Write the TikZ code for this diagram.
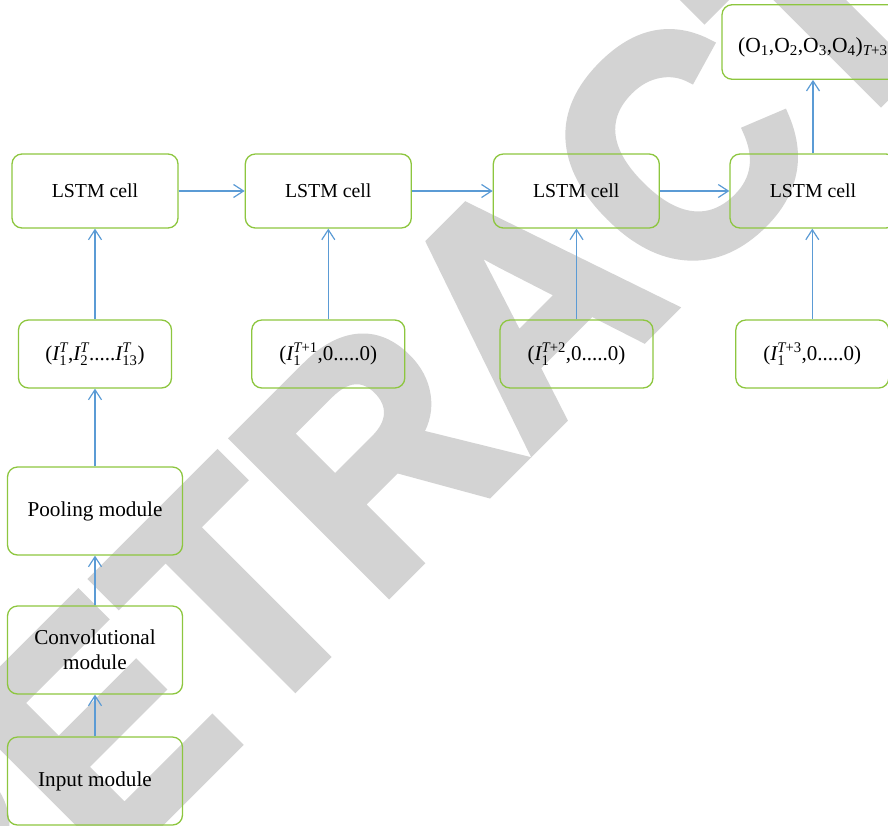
\documentclass[tikz,border=0pt]{standalone}
\usepackage{amsmath}
\usepackage{fontspec}
\setmainfont{Liberation Serif}
\newfontfamily\wmfont{Liberation Sans Bold}[FakeBold=2.8]
\usetikzlibrary{arrows.meta}
\definecolor{boxgreen}{RGB}{141,198,63}
\definecolor{arrblue}{RGB}{91,155,213}
\definecolor{wmgray}{RGB}{211,211,211}
\newcommand\tI{\textit{I}}
\newcommand\sT{\text{\itshape T}}
\begin{document}
\begin{tikzpicture}[x=1pt,y=-1pt,
  box/.style={draw=boxgreen, line width=1.3pt, rounded corners=10pt, inner sep=0pt, align=center, font=\fontsize{19.8}{24}\selectfont},
  lstm/.style={box, minimum width=166pt, minimum height=74pt},
  inbox/.style={box, minimum width=153pt, minimum height=68pt, font=\fontsize{21}{24}\selectfont},
  mod/.style={box, minimum width=175pt, minimum height=88pt, font=\fontsize{21.2}{25}\selectfont},
  wm/.style={font=\wmfont\fontsize{318}{318}\selectfont, text=wmgray, rotate=45, xscale=0.938, anchor=base, inner sep=0pt},
  arr/.style={draw=arrblue, line width=1.2pt, -{Straight Barb[length=10pt,width=13pt]}}]
\useasboundingbox (0,0) rectangle (888,825);
\clip (0,0) rectangle (888,825);
% watermark
\node[wm] (wmc) at (603.2,379) {RETRACTED};
% LSTM row
\node[lstm] (l1) at (95,191) {LSTM cell};
\node[lstm] (l2) at (328.3,191) {LSTM cell};
\node[lstm] (l3) at (576.3,191) {LSTM cell};
\node[lstm] (l4) at (813,191) {LSTM cell};
% input row
\node[inbox] (i1) at (95,354) {(${\tI}^{\sT}_{\text{1}}$,${\tI}^{\sT}_{\text{2}}$.....${\tI}^{\sT}_{\text{13}}$)};
\node[inbox] (i2) at (328.3,354) {(${\tI}^{\sT\text{+1}}_{\text{1}}$,0.....0)};
\node[inbox] (i3) at (576.5,354) {(${\tI}^{\sT\text{+2}}_{\text{1}}$,0.....0)};
\node[inbox] (i4) at (812.3,354) {(${\tI}^{\sT\text{+3}}_{\text{1}}$,0.....0)};
% left column
\node[mod] (pool) at (95,511) {Pooling module};
\node[mod] (conv) at (95,650) {Convolutional\\module};
\node[mod] (inp) at (95,781) {Input module};
% output
\node[box, minimum width=183pt, minimum height=74.5pt] (out) at (813.5,42) {};
\node[anchor=base west, inner sep=0pt, font=\fontsize{21.5}{24}\selectfont] (outtxt) at (738,52.5) {(O$_{\text{1}}$,O$_{\text{2}}$,O$_{\text{3}}$,O$_{\text{4}}$)$_{\sT\text{+3}}$};
% connectors
\draw[arr] (l1.east) -- (l2.west);
\draw[arr] (l2.east) -- (l3.west);
\draw[arr] (l3.east) -- (l4.west);
\draw[arr] (i1.north) -- (l1.south);
\draw[arr] (i2.north) -- (l2.south);
\draw[arr] (i3.north) -- (i3.north |- l3.south);
\draw[arr] (i4.north) -- (i4.north |- l4.south);
\draw[arr] (l4.north) -- (l4.north |- out.south);
\draw[arr] (pool.north) -- (i1.south);
\draw[arr] (conv.north) -- (pool.south);
\draw[arr] (inp.north) -- (conv.south);
\end{tikzpicture}
\end{document}
